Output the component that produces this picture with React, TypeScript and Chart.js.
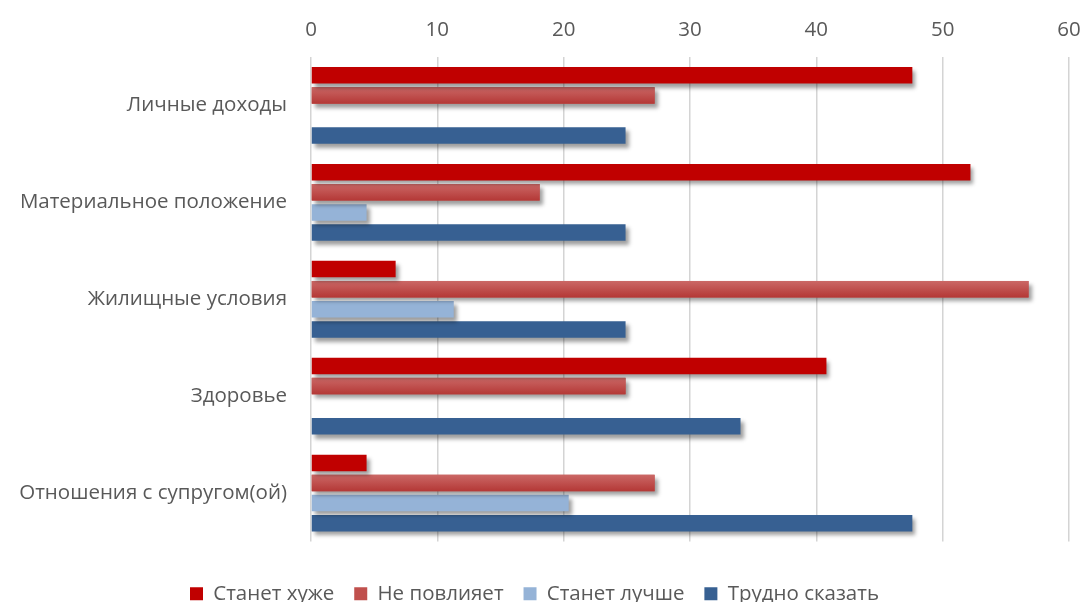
import React, { useEffect, useRef } from "react";
import { Chart, registerables } from "chart.js";

Chart.register(...registerables);

const categories = [
  "Личные доходы",
  "Материальное положение",
  "Жилищные условия",
  "Здоровье",
  "Отношения с супругом(ой)",
];
const seriesNames = ["Станет хуже", "Не повлияет", "Станет лучше", "Трудно сказать"];
const worse = [47.6, 52.2, 6.7, 40.8, 4.4];
const noEffect = [27.2, 18.1, 56.8, 24.9, 27.2];
const better = [null, 4.4, 11.3, null, 20.4];
const hardToSay = [24.9, 24.9, 24.9, 34.0, 47.6];
const xTicks = [0, 10, 20, 30, 40, 50, 60];

const FONT = "'Open Sans', sans-serif";
const TEXT = "#595959";
const FS = 20.5;

const shadowPlugin = {
  id: "barShadow",
  beforeDatasetsDraw(chart: any) {
    const ctx = chart.ctx;
    ctx.save();
    ctx.shadowColor = "rgba(0,0,0,0.38)";
    ctx.shadowBlur = 4;
    ctx.shadowOffsetX = 3;
    ctx.shadowOffsetY = 4;
  },
  afterDatasetDraw(chart: any, args: any) {
    if (args.index !== 1) return;
    const ctx = chart.ctx;
    const meta = chart.getDatasetMeta(1);
    ctx.save();
    ctx.shadowColor = "rgba(0,0,0,0)";
    ctx.shadowBlur = 0;
    ctx.shadowOffsetX = 0;
    ctx.shadowOffsetY = 0;
    meta.data.forEach((el: any) => {
      const p = el.getProps(["x", "y", "base", "height"], true);
      if (p.x == null || isNaN(p.x)) return;
      const top = p.y - p.height / 2;
      const g = ctx.createLinearGradient(0, top, 0, top + p.height);
      g.addColorStop(0, "#CB6866");
      g.addColorStop(1, "#B43836");
      ctx.fillStyle = g;
      const left = Math.min(p.base, p.x);
      ctx.fillRect(left, top, Math.abs(p.x - p.base), p.height);
    });
    ctx.restore();
  },
  afterDatasetsDraw(chart: any) {
    chart.ctx.restore();
  },
};

export default function App() {
  const ref = useRef<HTMLCanvasElement>(null);
  useEffect(() => {
    document.body.style.margin = "0";
    const chart = new Chart(ref.current!, {
      type: "bar",
      data: {
        labels: categories,
        datasets: [
          { label: seriesNames[0], data: worse, backgroundColor: "#C00000" },
          { label: seriesNames[1], data: noEffect, backgroundColor: "#C0504D" },
          { label: seriesNames[2], data: better as any, backgroundColor: "#95B3D7" },
          { label: seriesNames[3], data: hardToSay, backgroundColor: "#376092" },
        ],
      },
      options: {
        indexAxis: "y",
        animation: false,
        responsive: false,
        layout: { padding: { left: 0, right: 14, top: 0, bottom: -12 } },
        datasets: {
          bar: { categoryPercentage: 0.83, barPercentage: 0.82, borderWidth: 0 },
        },
        scales: {
          x: {
            type: "linear",
            position: "top",
            min: 0,
            max: 60,
            afterBuildTicks: (s: any) => {
              s.ticks = xTicks.map((v) => ({ value: v }));
            },
            afterFit: (s: any) => {
              s.height = 57;
              s.paddingLeft = 0;
              s.paddingRight = 0;
            },
            grid: { color: "#d4d4d4", lineWidth: 1.5, drawTicks: false },
            border: { display: false },
            ticks: { color: TEXT, font: { family: FONT, size: FS }, padding: 15 },
          },
          x2: {
            type: "linear",
            position: "bottom",
            display: true,
            grid: { display: false },
            border: { display: false },
            ticks: { display: false },
            afterFit: (s: any) => {
              s.height = 22;
              s.paddingLeft = 0;
              s.paddingRight = 0;
            },
          },
          y: {
            type: "category",
            grid: { display: false },
            border: { display: false },
            afterFit: (s: any) => {
              s.width = 311;
            },
            ticks: { color: TEXT, font: { family: FONT, size: FS }, padding: 16 },
          },
        },
        plugins: {
          legend: {
            position: "bottom",
            labels: {
              color: TEXT,
              font: { family: FONT, size: FS },
              boxWidth: 13,
              boxHeight: 13,
              padding: 20,
            },
          },
          tooltip: { enabled: false },
        },
      },
      plugins: [shadowPlugin],
    });
    return () => chart.destroy();
  }, []);
  return (
    <div style={{ width: 1083, height: 602 }}>
      <canvas ref={ref} width={1083} height={602} />
    </div>
  );
}
